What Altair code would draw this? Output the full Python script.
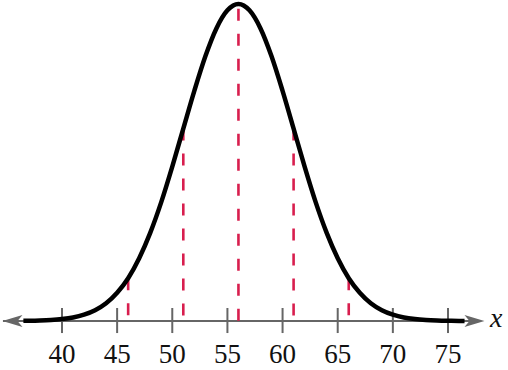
import altair as alt
import pandas as pd

# Curve heights (relative to peak)
curve_x = [36.5, 37, 38, 39, 40, 41, 42, 43, 44, 45, 46, 47, 48, 49, 50, 51, 52, 53, 54, 55, 56,
           57, 58, 59, 60, 61, 62, 63, 64, 65, 66, 67, 68, 69, 70, 71, 72, 73, 74, 75, 76, 76.5]
curve_y = [0.0005, 0.0007, 0.0015, 0.0031, 0.006, 0.011, 0.020, 0.034, 0.056, 0.089, 0.135,
           0.198, 0.278, 0.375, 0.487, 0.607, 0.726, 0.835, 0.923, 0.980, 1.0,
           0.980, 0.923, 0.835, 0.726, 0.607, 0.487, 0.375, 0.278, 0.198, 0.135, 0.089, 0.056,
           0.034, 0.020, 0.011, 0.006, 0.0031, 0.0015, 0.0007, 0.0003, 0.0002]

dash_x = [46, 51, 56, 61, 66]
dash_top = [0.135, 0.607, 0.985, 0.607, 0.135]

tick_values = [40, 45, 50, 55, 60, 65, 70, 75]
tick_labels = ["40", "45", "50", "55", "60", "65", "70", "75"]

axis_start = 34.65
axis_end = 77.4
arrow_left = 35.51
arrow_right = 77.40

SERIF = "Liberation Serif"

xs = alt.Scale(domain=[34.38, 80.44], nice=False, zero=False)
ys = alt.Scale(domain=[-0.1546, 1.0126], nice=False, zero=False)

curve_df = pd.DataFrame({"x": curve_x, "y": curve_y})
dash_df = pd.DataFrame({"x": dash_x, "top": dash_top, "bottom": [0] * len(dash_x)})
tick_df = pd.DataFrame({"x": tick_values, "label": tick_labels, "ly": [-0.131] * len(tick_values)})
axis_df = pd.DataFrame({"x": [axis_start], "x2": [axis_end], "y": [0]})

axis_line = alt.Chart(axis_df).mark_rule(color="#666666", strokeWidth=2).encode(
    x=alt.X("x:Q", scale=xs, axis=None),
    x2="x2:Q",
    y=alt.Y("y:Q", scale=ys, axis=None),
)

ticks = alt.Chart(tick_df).mark_rule(color="#666666", strokeWidth=2).encode(
    x=alt.X("x:Q", scale=xs, axis=None),
    y=alt.Y("t1:Q", scale=ys, axis=None),
    y2="t2:Q",
).transform_calculate(t1="0.041", t2="-0.038")

labels = alt.Chart(tick_df).mark_text(baseline="alphabetic", align="center", font=SERIF).encode(
    x=alt.X("x:Q", scale=xs, axis=None),
    y=alt.Y("ly:Q", scale=ys, axis=None),
    text="label:N",
    size=alt.value(27),
    color=alt.value("#111111"),
)

dashes = alt.Chart(dash_df).mark_rule(color="#d81e4e", strokeWidth=2.6, strokeDash=[12, 13]).encode(
    x=alt.X("x:Q", scale=xs, axis=None),
    y=alt.Y("top:Q", scale=ys, axis=None),
    y2="bottom:Q",
)

curve = alt.Chart(curve_df).mark_line(color="black", strokeWidth=4.5, interpolate="monotone").encode(
    x=alt.X("x:Q", scale=xs, axis=None),
    y=alt.Y("y:Q", scale=ys, axis=None),
)

arrow_df = pd.DataFrame({"x": [arrow_left, arrow_right], "y": [0, 0], "dir": ["L", "R"]})
right_path = "M1,0 L-1,-0.6 L-0.5,0 L-1,0.6 Z"
left_path = "M-1,0 L1,-0.6 L0.5,0 L1,0.6 Z"

arrows = alt.Chart(arrow_df).mark_point(filled=True, opacity=1, size=400, color="#666666").encode(
    x=alt.X("x:Q", scale=xs, axis=None),
    y=alt.Y("y:Q", scale=ys, axis=None),
    shape=alt.Shape("dir:N", scale=alt.Scale(domain=["L", "R"], range=[left_path, right_path]), legend=None),
)

xlabel_df = pd.DataFrame({"x": [78.8], "y": [-0.0189], "t": ["x"]})
xlabel = alt.Chart(xlabel_df).mark_text(fontStyle="italic", align="left", baseline="alphabetic", font=SERIF).encode(
    x=alt.X("x:Q", scale=xs, axis=None),
    y=alt.Y("y:Q", scale=ys, axis=None),
    text="t:N",
    size=alt.value(28),
    color=alt.value("#111111"),
)

chart = alt.layer(axis_line, ticks, labels, dashes, curve, arrows, xlabel).properties(
    width=508, height=370, padding=0, autosize=alt.AutoSizeParams(type="none"), background="white"
).configure_view(stroke=None)

chart.save("out.html", embed_options={"renderer": "svg", "actions": False})
